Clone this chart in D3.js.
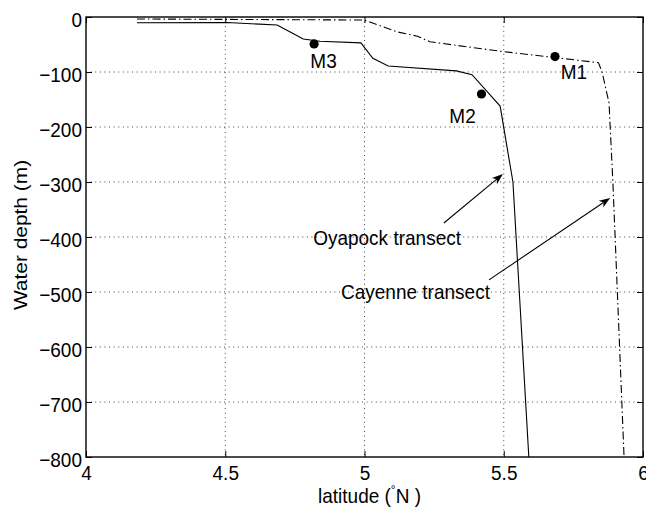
<!DOCTYPE html>
<html><head><meta charset="utf-8">
<script src="https://cdn.jsdelivr.net/npm/d3@7"></script>
<style>
body{margin:0;background:#fff}
svg{display:block}
text{font-family:"Liberation Sans",Arial,Helvetica,sans-serif;fill:#000}
</style>
</head><body>
<svg id="c" width="646" height="509"></svg>
<script>
// ---- data ----
const xTicks = [4, 4.5, 5, 5.5, 6];
const yTicks = [0, -100, -200, -300, -400, -500, -600, -700, -800];

const oyapockLat   = [4.183, 4.506, 4.686, 4.74, 4.78, 4.84, 4.987, 5.03, 5.085, 5.33, 5.386, 5.487, 5.533, 5.59];
const oyapockDepth = [-10.4, -10, -14.5, -29, -40, -44, -47, -75, -89, -98, -105, -162, -300, -800];

const cayenneLat   = [4.183, 5.0, 5.117, 5.19, 5.235, 5.38, 5.5, 5.84, 5.853, 5.878, 5.892, 5.932];
const cayenneDepth = [-3.6, -5.5, -27, -35, -45, -55, -63, -83, -100, -156, -302, -800];

const stationNames = ["M1", "M2", "M3"];
const stationLat   = [5.684, 5.42, 4.819];
const stationDepth = [-72, -140, -49];
const stationLabelLat   = [5.752, 5.352, 4.853];
const stationLabelDepth = [-113, -193, -93];

const noteTexts = ["Oyapock transect", "Cayenne transect"];
const noteLat   = [5.081, 5.183];
const noteDepth = [-414.5, -513];
const arrowFromLat   = [5.285, 5.447];
const arrowFromDepth = [-374.5, -478];
const arrowToLat     = [5.497, 5.882];
const arrowToDepth   = [-285.5, -329];

// ---- layout ----
const svg = d3.select("#c");
const m = {left: 86, top: 17, right: 3, bottom: 52};
const W = 646 - m.left - m.right, H = 509 - m.top - m.bottom;
const x = d3.scaleLinear().domain([4, 6]).range([0, W]);
const y = d3.scaleLinear().domain([-800, 0]).range([H, 0]);
const g = svg.append("g").attr("transform", `translate(${m.left},${m.top})`);
const FS = 19, SY = 1.1;

// place a text at (px,py) with slight vertical stretch, like the reference
function stretched(sel, px, py) {
  return sel.attr("x", 0).attr("y", 0).attr("transform", `translate(${px},${py}) scale(1,${SY})`);
}

// grid
g.append("g").selectAll("line").data(xTicks.slice(1, -1)).join("line")
  .attr("x1", d => x(d)).attr("x2", d => x(d)).attr("y1", 0).attr("y2", H)
  .attr("stroke", "#444").attr("stroke-width", 1).attr("stroke-dasharray", "1,3.6");
g.append("g").selectAll("line").data(yTicks.slice(1, -1)).join("line")
  .attr("y1", d => y(d)).attr("y2", d => y(d)).attr("x1", 0).attr("x2", W)
  .attr("stroke", "#444").attr("stroke-width", 1).attr("stroke-dasharray", "1,3.6");

// lines
const line = d3.line().x(d => x(d[0])).y(d => y(d[1]));
g.append("path").datum(oyapockLat.map((v, i) => [v, oyapockDepth[i]]))
  .attr("d", line).attr("fill", "none").attr("stroke", "#000").attr("stroke-width", 1.1);
g.append("path").datum(cayenneLat.map((v, i) => [v, cayenneDepth[i]]))
  .attr("d", line).attr("fill", "none").attr("stroke", "#000").attr("stroke-width", 1.1)
  .attr("stroke-dasharray", "8,3,1.5,3");

// stations
g.append("g").selectAll("circle").data(stationNames).join("circle")
  .attr("cx", (d, i) => x(stationLat[i])).attr("cy", (d, i) => y(stationDepth[i]))
  .attr("r", 4.6).attr("fill", "#000");
g.append("g").selectAll("text").data(stationNames).join("text")
  .each(function (d, i) { stretched(d3.select(this), x(stationLabelLat[i]), y(stationLabelDepth[i])); })
  .attr("text-anchor", "middle").attr("font-size", FS).text(d => d);

// annotations
g.append("g").selectAll("text").data(noteTexts).join("text")
  .each(function (d, i) { stretched(d3.select(this), x(noteLat[i]), y(noteDepth[i])); })
  .attr("text-anchor", "middle").attr("font-size", FS).text(d => d);
noteTexts.forEach((t, i) => {
  const x0 = x(arrowFromLat[i]), y0 = y(arrowFromDepth[i]);
  const x1 = x(arrowToLat[i]), y1 = y(arrowToDepth[i]);
  const dx = x1 - x0, dy = y1 - y0, L = Math.hypot(dx, dy);
  const ux = dx / L, uy = dy / L, px = -uy, py = ux;
  const hl = 11, hw = 4, nb = 8;
  g.append("line").attr("x1", x0).attr("y1", y0)
    .attr("x2", x1 - ux * nb).attr("y2", y1 - uy * nb)
    .attr("stroke", "#000").attr("stroke-width", 1.1);
  const pts = [
    [x1, y1],
    [x1 - ux * hl + px * hw, y1 - uy * hl + py * hw],
    [x1 - ux * nb, y1 - uy * nb],
    [x1 - ux * hl - px * hw, y1 - uy * hl - py * hw]
  ];
  g.append("path").attr("d", "M" + pts.map(p => p.join(",")).join("L") + "Z").attr("fill", "#000");
});

// axes (ticks inside, MATLAB-like)
const fmtY = d => d < 0 ? "\u2212" + Math.abs(d) : String(d);
const ax = g.append("g").attr("transform", `translate(0,${H})`)
  .call(d3.axisBottom(x).tickValues(xTicks).tickSizeInner(-6).tickSizeOuter(0).tickFormat(d => String(d)));
ax.selectAll("text").attr("y", 0).attr("dy", 0).attr("font-size", FS)
  .attr("transform", `translate(0,23) scale(1,${SY})`);
const ay = g.append("g")
  .call(d3.axisLeft(y).tickValues(yTicks).tickSizeInner(-6).tickSizeOuter(0).tickFormat(fmtY));
ay.selectAll("text").attr("x", 0).attr("y", 0).attr("dy", "0.4em").attr("font-size", FS)
  .attr("transform", `translate(-4,1) scale(1,${SY})`);
g.append("g").call(d3.axisTop(x).tickValues(xTicks).tickSizeInner(-6).tickSizeOuter(0).tickFormat(""));
g.append("g").attr("transform", `translate(${W},0)`)
  .call(d3.axisRight(y).tickValues(yTicks).tickSizeInner(-6).tickSizeOuter(0).tickFormat(""));
g.selectAll(".domain").remove();
g.selectAll(".tick line").attr("stroke", "#000").attr("stroke-width", 1);
g.selectAll(".tick text").attr("fill", "#000").attr("font-family", '"Liberation Sans",Arial,sans-serif');

// frame
g.append("rect").attr("x", 0).attr("y", 0).attr("width", W).attr("height", H)
  .attr("fill", "none").attr("stroke", "#000").attr("stroke-width", 1.4);

// axis titles
const xt = svg.append("text").attr("text-anchor", "middle").attr("font-size", FS);
stretched(xt, m.left + W / 2 + 5, 503);
xt.append("tspan").text("latitude (");
xt.append("tspan").attr("dy", -8).attr("font-size", 12).text("\u00B0");
xt.append("tspan").attr("dy", 8).text("N )");
svg.append("text").attr("transform", `translate(27,${m.top + H / 2 - 2}) scale(1,${SY}) rotate(-90)`)
  .attr("text-anchor", "middle").attr("font-size", FS).text("Water depth (m)");
</script>
</body></html>
